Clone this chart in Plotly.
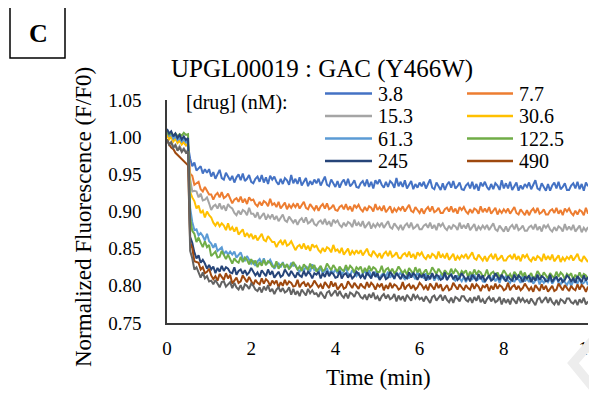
import plotly.graph_objects as go

# ---------------- data ----------------
time_min = [0.00, 0.05, 0.10, 0.15, 0.20, 0.25, 0.30, 0.35, 0.40, 0.45,
            0.50, 0.55, 0.60, 0.65, 0.70, 0.75, 0.80, 0.85, 0.90, 0.95,
            1.00, 1.05, 1.10, 1.15, 1.20, 1.25, 1.30, 1.35, 1.40, 1.45,
            1.50, 1.55, 1.60, 1.65, 1.70, 1.75, 1.80, 1.85, 1.90, 1.95,
            2.00, 2.05, 2.10, 2.15, 2.20, 2.25, 2.30, 2.35, 2.40, 2.45,
            2.50, 2.55, 2.60, 2.65, 2.70, 2.75, 2.80, 2.85, 2.90, 2.95,
            3.00, 3.05, 3.10, 3.15, 3.20, 3.25, 3.30, 3.35, 3.40, 3.45,
            3.50, 3.55, 3.60, 3.65, 3.70, 3.75, 3.80, 3.85, 3.90, 3.95,
            4.00, 4.05, 4.10, 4.15, 4.20, 4.25, 4.30, 4.35, 4.40, 4.45,
            4.50, 4.55, 4.60, 4.65, 4.70, 4.75, 4.80, 4.85, 4.90, 4.95,
            5.00, 5.05, 5.10, 5.15, 5.20, 5.25, 5.30, 5.35, 5.40, 5.45,
            5.50, 5.55, 5.60, 5.65, 5.70, 5.75, 5.80, 5.85, 5.90, 5.95,
            6.00, 6.05, 6.10, 6.15, 6.20, 6.25, 6.30, 6.35, 6.40, 6.45,
            6.50, 6.55, 6.60, 6.65, 6.70, 6.75, 6.80, 6.85, 6.90, 6.95,
            7.00, 7.05, 7.10, 7.15, 7.20, 7.25, 7.30, 7.35, 7.40, 7.45,
            7.50, 7.55, 7.60, 7.65, 7.70, 7.75, 7.80, 7.85, 7.90, 7.95,
            8.00, 8.05, 8.10, 8.15, 8.20, 8.25, 8.30, 8.35, 8.40, 8.45,
            8.50, 8.55, 8.60, 8.65, 8.70, 8.75, 8.80, 8.85, 8.90, 8.95,
            9.00, 9.05, 9.10, 9.15, 9.20, 9.25, 9.30, 9.35, 9.40, 9.45,
            9.50, 9.55, 9.60, 9.65, 9.70, 9.75, 9.80, 9.85, 9.90, 9.95,
            10.00]

conc_3_8 = [1.007, 1.002, 1.005, 0.999, 1.003, 0.996, 0.999, 0.993, 0.995, 0.990, 0.988,
            0.971, 0.961, 0.966, 0.955, 0.958, 0.961, 0.951, 0.957, 0.952, 0.957,
            0.947, 0.953, 0.944, 0.951, 0.956, 0.945, 0.943, 0.952, 0.947, 0.942,
            0.948, 0.939, 0.946, 0.950, 0.942, 0.951, 0.941, 0.944, 0.949, 0.940,
            0.938, 0.944, 0.947, 0.940, 0.949, 0.939, 0.946, 0.937, 0.948, 0.943,
            0.947, 0.940, 0.936, 0.944, 0.937, 0.945, 0.942, 0.936, 0.949, 0.938,
            0.944, 0.937, 0.946, 0.935, 0.940, 0.945, 0.934, 0.941, 0.936, 0.943,
            0.938, 0.944, 0.935, 0.942, 0.947, 0.936, 0.934, 0.943, 0.938, 0.933,
            0.941, 0.932, 0.939, 0.943, 0.935, 0.944, 0.934, 0.937, 0.942, 0.933,
            0.932, 0.938, 0.941, 0.934, 0.943, 0.933, 0.940, 0.931, 0.942, 0.937,
            0.943, 0.936, 0.932, 0.940, 0.933, 0.941, 0.938, 0.932, 0.945, 0.934,
            0.940, 0.933, 0.942, 0.931, 0.936, 0.941, 0.930, 0.937, 0.932, 0.939,
            0.934, 0.940, 0.931, 0.938, 0.943, 0.932, 0.930, 0.939, 0.934, 0.929,
            0.938, 0.929, 0.936, 0.940, 0.932, 0.941, 0.931, 0.934, 0.939, 0.930,
            0.929, 0.935, 0.938, 0.931, 0.940, 0.930, 0.937, 0.928, 0.939, 0.934,
            0.940, 0.933, 0.929, 0.937, 0.930, 0.938, 0.935, 0.929, 0.942, 0.931,
            0.938, 0.931, 0.940, 0.929, 0.934, 0.939, 0.928, 0.935, 0.930, 0.937,
            0.933, 0.939, 0.930, 0.937, 0.942, 0.931, 0.929, 0.938, 0.933, 0.928,
            0.937, 0.928, 0.935, 0.939, 0.931, 0.940, 0.930, 0.933, 0.938, 0.929,
            0.929, 0.935, 0.938, 0.931, 0.940, 0.930, 0.937, 0.928, 0.939, 0.934]

conc_7_7 = [1.005, 0.999, 1.003, 0.996, 1.000, 0.994, 0.997, 0.991, 0.994, 0.989, 0.990,
            0.951, 0.948, 0.936, 0.938, 0.940, 0.930, 0.927, 0.933, 0.928, 0.923,
            0.923, 0.916, 0.922, 0.925, 0.919, 0.926, 0.918, 0.920, 0.924, 0.917,
            0.911, 0.916, 0.918, 0.913, 0.920, 0.912, 0.917, 0.910, 0.919, 0.915,
            0.916, 0.910, 0.907, 0.913, 0.908, 0.914, 0.912, 0.907, 0.917, 0.909,
            0.911, 0.906, 0.913, 0.904, 0.908, 0.912, 0.903, 0.909, 0.905, 0.910,
            0.906, 0.911, 0.904, 0.909, 0.913, 0.905, 0.903, 0.910, 0.906, 0.902,
            0.908, 0.901, 0.907, 0.910, 0.904, 0.911, 0.903, 0.905, 0.909, 0.902,
            0.901, 0.906, 0.908, 0.903, 0.910, 0.902, 0.907, 0.900, 0.909, 0.905,
            0.909, 0.903, 0.900, 0.906, 0.901, 0.907, 0.905, 0.900, 0.910, 0.902,
            0.906, 0.901, 0.908, 0.899, 0.903, 0.907, 0.898, 0.904, 0.900, 0.905,
            0.902, 0.907, 0.900, 0.905, 0.909, 0.901, 0.899, 0.906, 0.902, 0.898,
            0.904, 0.897, 0.903, 0.906, 0.900, 0.907, 0.899, 0.901, 0.905, 0.898,
            0.898, 0.903, 0.905, 0.900, 0.907, 0.899, 0.904, 0.897, 0.906, 0.902,
            0.906, 0.900, 0.897, 0.903, 0.898, 0.904, 0.902, 0.897, 0.907, 0.899,
            0.904, 0.899, 0.906, 0.897, 0.901, 0.905, 0.896, 0.902, 0.898, 0.903,
            0.899, 0.904, 0.897, 0.902, 0.906, 0.898, 0.896, 0.903, 0.899, 0.895,
            0.902, 0.895, 0.901, 0.904, 0.898, 0.905, 0.897, 0.899, 0.903, 0.896,
            0.896, 0.901, 0.903, 0.898, 0.905, 0.897, 0.902, 0.895, 0.904, 0.900,
            0.904, 0.898, 0.895, 0.901, 0.896, 0.902, 0.900, 0.895, 0.905, 0.897]

conc_15_3 = [0.997, 0.991, 0.994, 0.987, 0.990, 0.984, 0.988, 0.982, 0.985, 0.980, 0.983,
             0.943, 0.927, 0.928, 0.927, 0.919, 0.924, 0.915, 0.916, 0.919, 0.911,
             0.902, 0.907, 0.909, 0.904, 0.911, 0.903, 0.908, 0.901, 0.910, 0.906,
             0.904, 0.898, 0.895, 0.901, 0.896, 0.902, 0.900, 0.895, 0.905, 0.897,
             0.897, 0.892, 0.899, 0.890, 0.894, 0.898, 0.889, 0.895, 0.891, 0.896,
             0.889, 0.894, 0.887, 0.892, 0.896, 0.888, 0.886, 0.893, 0.889, 0.885,
             0.889, 0.882, 0.888, 0.891, 0.885, 0.892, 0.884, 0.886, 0.890, 0.883,
             0.881, 0.886, 0.888, 0.883, 0.890, 0.882, 0.887, 0.880, 0.889, 0.885,
             0.888, 0.882, 0.879, 0.885, 0.880, 0.886, 0.884, 0.879, 0.889, 0.881,
             0.885, 0.880, 0.887, 0.878, 0.882, 0.886, 0.877, 0.883, 0.879, 0.884,
             0.880, 0.885, 0.878, 0.883, 0.887, 0.879, 0.877, 0.884, 0.880, 0.876,
             0.882, 0.875, 0.881, 0.884, 0.878, 0.885, 0.877, 0.879, 0.883, 0.876,
             0.876, 0.881, 0.883, 0.878, 0.885, 0.877, 0.882, 0.875, 0.884, 0.880,
             0.884, 0.878, 0.875, 0.881, 0.876, 0.882, 0.880, 0.875, 0.885, 0.877,
             0.882, 0.877, 0.884, 0.875, 0.879, 0.883, 0.874, 0.880, 0.876, 0.881,
             0.877, 0.882, 0.875, 0.880, 0.884, 0.876, 0.874, 0.881, 0.877, 0.873,
             0.880, 0.873, 0.879, 0.882, 0.876, 0.883, 0.875, 0.877, 0.881, 0.874,
             0.874, 0.879, 0.881, 0.876, 0.883, 0.875, 0.880, 0.873, 0.882, 0.878,
             0.882, 0.876, 0.873, 0.879, 0.874, 0.880, 0.878, 0.873, 0.883, 0.875,
             0.880, 0.875, 0.882, 0.873, 0.877, 0.881, 0.872, 0.878, 0.874, 0.879]

conc_30_6 = [1.003, 0.997, 1.000, 0.994, 0.998, 0.992, 0.995, 0.990, 0.993, 0.989, 0.991,
             0.926, 0.919, 0.914, 0.904, 0.908, 0.898, 0.901, 0.892, 0.900, 0.895,
             0.892, 0.885, 0.881, 0.886, 0.880, 0.884, 0.881, 0.875, 0.884, 0.875,
             0.879, 0.873, 0.879, 0.869, 0.872, 0.876, 0.866, 0.871, 0.866, 0.870,
             0.863, 0.868, 0.861, 0.866, 0.870, 0.862, 0.860, 0.867, 0.863, 0.859,
             0.859, 0.852, 0.858, 0.861, 0.855, 0.862, 0.854, 0.856, 0.860, 0.853,
             0.848, 0.853, 0.855, 0.850, 0.857, 0.849, 0.854, 0.847, 0.856, 0.852,
             0.854, 0.848, 0.845, 0.851, 0.846, 0.852, 0.850, 0.845, 0.855, 0.847,
             0.849, 0.844, 0.851, 0.842, 0.846, 0.850, 0.841, 0.847, 0.843, 0.848,
             0.843, 0.848, 0.841, 0.846, 0.850, 0.842, 0.840, 0.847, 0.843, 0.839,
             0.844, 0.837, 0.843, 0.846, 0.840, 0.847, 0.839, 0.841, 0.845, 0.838,
             0.837, 0.842, 0.844, 0.839, 0.846, 0.838, 0.843, 0.836, 0.845, 0.841,
             0.845, 0.839, 0.836, 0.842, 0.837, 0.843, 0.841, 0.836, 0.846, 0.838,
             0.842, 0.837, 0.844, 0.835, 0.839, 0.843, 0.834, 0.840, 0.836, 0.841,
             0.838, 0.843, 0.836, 0.841, 0.845, 0.837, 0.835, 0.842, 0.838, 0.834,
             0.840, 0.833, 0.839, 0.842, 0.836, 0.843, 0.835, 0.837, 0.841, 0.834,
             0.834, 0.839, 0.841, 0.836, 0.843, 0.835, 0.840, 0.833, 0.842, 0.838,
             0.842, 0.836, 0.833, 0.839, 0.834, 0.840, 0.838, 0.833, 0.843, 0.835,
             0.840, 0.835, 0.842, 0.833, 0.837, 0.841, 0.832, 0.838, 0.834, 0.839,
             0.836, 0.841, 0.834, 0.839, 0.843, 0.835, 0.833, 0.840, 0.836, 0.832]

conc_61_3 = [1.007, 1.002, 1.004, 0.998, 1.001, 0.996, 0.999, 0.994, 0.997, 0.993, 0.995,
             0.905, 0.886, 0.875, 0.876, 0.868, 0.871, 0.867, 0.861, 0.870, 0.860,
             0.857, 0.851, 0.857, 0.847, 0.850, 0.852, 0.842, 0.847, 0.842, 0.846,
             0.842, 0.846, 0.838, 0.842, 0.845, 0.837, 0.834, 0.840, 0.835, 0.830,
             0.834, 0.827, 0.833, 0.836, 0.830, 0.837, 0.829, 0.831, 0.835, 0.828,
             0.823, 0.828, 0.830, 0.825, 0.832, 0.824, 0.829, 0.822, 0.831, 0.827,
             0.828, 0.822, 0.819, 0.825, 0.820, 0.826, 0.824, 0.819, 0.829, 0.821,
             0.823, 0.818, 0.825, 0.816, 0.820, 0.824, 0.815, 0.821, 0.817, 0.822,
             0.817, 0.822, 0.815, 0.820, 0.824, 0.816, 0.814, 0.821, 0.817, 0.813,
             0.818, 0.811, 0.817, 0.820, 0.814, 0.821, 0.813, 0.815, 0.819, 0.812,
             0.810, 0.815, 0.817, 0.812, 0.819, 0.811, 0.816, 0.809, 0.818, 0.814,
             0.818, 0.812, 0.809, 0.815, 0.810, 0.816, 0.814, 0.809, 0.819, 0.811,
             0.815, 0.810, 0.817, 0.808, 0.812, 0.816, 0.807, 0.813, 0.809, 0.814,
             0.810, 0.815, 0.808, 0.813, 0.817, 0.809, 0.807, 0.814, 0.810, 0.806,
             0.812, 0.805, 0.811, 0.814, 0.808, 0.815, 0.807, 0.809, 0.813, 0.806,
             0.805, 0.810, 0.812, 0.807, 0.814, 0.806, 0.811, 0.804, 0.813, 0.809,
             0.813, 0.807, 0.804, 0.810, 0.805, 0.811, 0.809, 0.804, 0.814, 0.806,
             0.810, 0.805, 0.812, 0.803, 0.807, 0.811, 0.802, 0.808, 0.804, 0.809,
             0.805, 0.810, 0.803, 0.808, 0.812, 0.804, 0.802, 0.809, 0.805, 0.801,
             0.807, 0.800, 0.806, 0.809, 0.803, 0.810, 0.802, 0.804, 0.808, 0.801]

conc_122_5 = [1.008, 1.003, 1.006, 1.002, 1.005, 1.001, 1.004, 1.002, 1.006, 1.003, 1.004,
              0.892, 0.874, 0.870, 0.859, 0.865, 0.858, 0.852, 0.860, 0.852, 0.855,
              0.840, 0.843, 0.846, 0.838, 0.839, 0.847, 0.842, 0.836, 0.842, 0.836,
              0.830, 0.837, 0.833, 0.831, 0.839, 0.832, 0.838, 0.835, 0.829, 0.836,
              0.830, 0.834, 0.825, 0.832, 0.827, 0.835, 0.828, 0.833, 0.831, 0.826,
              0.825, 0.833, 0.823, 0.828, 0.830, 0.824, 0.829, 0.823, 0.826, 0.832,
              0.827, 0.822, 0.826, 0.820, 0.829, 0.825, 0.821, 0.830, 0.823, 0.828,
              0.819, 0.823, 0.827, 0.820, 0.822, 0.830, 0.826, 0.821, 0.828, 0.823,
              0.819, 0.826, 0.822, 0.820, 0.828, 0.821, 0.827, 0.824, 0.818, 0.825,
              0.822, 0.826, 0.817, 0.824, 0.819, 0.827, 0.820, 0.825, 0.823, 0.818,
              0.819, 0.827, 0.817, 0.822, 0.824, 0.818, 0.823, 0.817, 0.820, 0.826,
              0.822, 0.817, 0.821, 0.815, 0.824, 0.820, 0.816, 0.825, 0.818, 0.823,
              0.814, 0.818, 0.822, 0.815, 0.817, 0.825, 0.821, 0.816, 0.823, 0.818,
              0.814, 0.821, 0.817, 0.815, 0.823, 0.816, 0.822, 0.819, 0.813, 0.820,
              0.817, 0.821, 0.812, 0.819, 0.814, 0.822, 0.815, 0.820, 0.818, 0.813,
              0.814, 0.822, 0.812, 0.817, 0.819, 0.813, 0.818, 0.812, 0.815, 0.821,
              0.817, 0.812, 0.816, 0.810, 0.819, 0.815, 0.811, 0.820, 0.813, 0.818,
              0.809, 0.813, 0.817, 0.810, 0.812, 0.820, 0.816, 0.811, 0.818, 0.813,
              0.810, 0.817, 0.813, 0.811, 0.819, 0.812, 0.818, 0.815, 0.809, 0.816,
              0.813, 0.817, 0.808, 0.815, 0.810, 0.818, 0.811, 0.816, 0.814, 0.809]

conc_245 = [1.011, 1.005, 1.008, 1.001, 1.005, 0.999, 1.003, 0.997, 1.001, 0.996, 0.999,
            0.866, 0.858, 0.845, 0.837, 0.841, 0.831, 0.835, 0.830, 0.823, 0.828,
            0.822, 0.826, 0.817, 0.824, 0.819, 0.827, 0.820, 0.825, 0.823, 0.818,
            0.817, 0.825, 0.815, 0.820, 0.822, 0.816, 0.821, 0.815, 0.818, 0.824,
            0.819, 0.814, 0.818, 0.812, 0.821, 0.817, 0.813, 0.822, 0.815, 0.820,
            0.811, 0.815, 0.819, 0.812, 0.814, 0.822, 0.818, 0.813, 0.820, 0.815,
            0.811, 0.818, 0.814, 0.812, 0.820, 0.813, 0.819, 0.816, 0.810, 0.817,
            0.815, 0.819, 0.810, 0.817, 0.812, 0.820, 0.813, 0.818, 0.816, 0.811,
            0.812, 0.820, 0.810, 0.815, 0.817, 0.811, 0.816, 0.810, 0.813, 0.819,
            0.816, 0.811, 0.815, 0.809, 0.818, 0.814, 0.810, 0.819, 0.812, 0.817,
            0.808, 0.812, 0.816, 0.809, 0.811, 0.819, 0.815, 0.810, 0.817, 0.812,
            0.809, 0.816, 0.812, 0.810, 0.818, 0.811, 0.817, 0.814, 0.808, 0.815,
            0.812, 0.816, 0.807, 0.814, 0.809, 0.817, 0.810, 0.815, 0.813, 0.808,
            0.810, 0.818, 0.808, 0.813, 0.815, 0.809, 0.814, 0.808, 0.811, 0.817,
            0.813, 0.808, 0.812, 0.806, 0.815, 0.811, 0.807, 0.816, 0.809, 0.814,
            0.806, 0.810, 0.814, 0.807, 0.809, 0.817, 0.813, 0.808, 0.815, 0.810,
            0.806, 0.813, 0.809, 0.807, 0.815, 0.808, 0.814, 0.811, 0.805, 0.812,
            0.810, 0.814, 0.805, 0.812, 0.807, 0.815, 0.808, 0.813, 0.811, 0.806,
            0.807, 0.815, 0.805, 0.810, 0.812, 0.806, 0.811, 0.805, 0.808, 0.814,
            0.811, 0.806, 0.810, 0.804, 0.813, 0.809, 0.805, 0.814, 0.807, 0.812]

conc_490 = [0.997, 0.990, 0.986, 0.984, 0.979, 0.976, 0.973, 0.970, 0.968, 0.964, 0.962,
            0.858, 0.851, 0.833, 0.832, 0.831, 0.822, 0.825, 0.817, 0.819, 0.823,
            0.814, 0.809, 0.813, 0.807, 0.816, 0.812, 0.808, 0.817, 0.810, 0.815,
            0.803, 0.807, 0.811, 0.804, 0.806, 0.814, 0.810, 0.805, 0.812, 0.807,
            0.801, 0.808, 0.804, 0.802, 0.810, 0.803, 0.809, 0.806, 0.800, 0.807,
            0.803, 0.807, 0.798, 0.805, 0.800, 0.808, 0.801, 0.806, 0.804, 0.799,
            0.800, 0.808, 0.798, 0.803, 0.805, 0.799, 0.804, 0.798, 0.801, 0.807,
            0.803, 0.798, 0.802, 0.796, 0.805, 0.801, 0.797, 0.806, 0.799, 0.804,
            0.795, 0.799, 0.803, 0.796, 0.798, 0.806, 0.802, 0.797, 0.804, 0.799,
            0.796, 0.803, 0.799, 0.797, 0.805, 0.798, 0.804, 0.801, 0.795, 0.802,
            0.799, 0.803, 0.794, 0.801, 0.796, 0.804, 0.797, 0.802, 0.800, 0.795,
            0.797, 0.805, 0.795, 0.800, 0.802, 0.796, 0.801, 0.795, 0.798, 0.804,
            0.801, 0.796, 0.800, 0.794, 0.803, 0.799, 0.795, 0.804, 0.797, 0.802,
            0.793, 0.797, 0.801, 0.794, 0.796, 0.804, 0.800, 0.795, 0.802, 0.797,
            0.794, 0.801, 0.797, 0.795, 0.803, 0.796, 0.802, 0.799, 0.793, 0.800,
            0.798, 0.802, 0.793, 0.800, 0.795, 0.803, 0.796, 0.801, 0.799, 0.794,
            0.796, 0.804, 0.794, 0.799, 0.801, 0.795, 0.800, 0.794, 0.797, 0.803,
            0.799, 0.794, 0.798, 0.792, 0.801, 0.797, 0.793, 0.802, 0.795, 0.800,
            0.792, 0.796, 0.800, 0.793, 0.795, 0.803, 0.799, 0.794, 0.801, 0.796,
            0.793, 0.800, 0.796, 0.794, 0.802, 0.795, 0.801, 0.798, 0.792, 0.799]

conc_unlabeled = [0.997, 0.990, 0.993, 0.986, 0.989, 0.982, 0.986, 0.980, 0.984, 0.979, 0.981,
                  0.847, 0.837, 0.822, 0.825, 0.818, 0.811, 0.818, 0.810, 0.813, 0.806,
                  0.807, 0.802, 0.808, 0.802, 0.798, 0.805, 0.806, 0.799, 0.802, 0.805,
                  0.797, 0.804, 0.798, 0.795, 0.801, 0.794, 0.802, 0.800, 0.796, 0.803,
                  0.800, 0.795, 0.793, 0.798, 0.791, 0.799, 0.794, 0.801, 0.792, 0.796,
                  0.789, 0.795, 0.798, 0.792, 0.797, 0.791, 0.793, 0.798, 0.788, 0.796,
                  0.788, 0.793, 0.786, 0.795, 0.791, 0.787, 0.796, 0.790, 0.794, 0.789,
                  0.790, 0.785, 0.792, 0.787, 0.783, 0.791, 0.793, 0.786, 0.790, 0.794,
                  0.786, 0.793, 0.787, 0.784, 0.790, 0.783, 0.791, 0.789, 0.785, 0.792,
                  0.790, 0.785, 0.783, 0.788, 0.781, 0.789, 0.784, 0.791, 0.782, 0.786,
                  0.780, 0.786, 0.789, 0.783, 0.788, 0.782, 0.784, 0.789, 0.779, 0.787,
                  0.781, 0.786, 0.779, 0.788, 0.784, 0.780, 0.789, 0.783, 0.787, 0.782,
                  0.784, 0.779, 0.786, 0.781, 0.777, 0.785, 0.787, 0.780, 0.784, 0.788,
                  0.780, 0.787, 0.781, 0.778, 0.784, 0.777, 0.785, 0.783, 0.779, 0.786,
                  0.786, 0.781, 0.779, 0.784, 0.777, 0.785, 0.780, 0.787, 0.778, 0.782,
                  0.776, 0.782, 0.785, 0.779, 0.784, 0.778, 0.780, 0.785, 0.775, 0.783,
                  0.777, 0.782, 0.775, 0.784, 0.780, 0.776, 0.785, 0.779, 0.783, 0.778,
                  0.781, 0.776, 0.783, 0.778, 0.774, 0.782, 0.784, 0.777, 0.781, 0.785,
                  0.777, 0.784, 0.778, 0.775, 0.781, 0.774, 0.782, 0.780, 0.776, 0.783,
                  0.783, 0.778, 0.776, 0.781, 0.774, 0.782, 0.777, 0.784, 0.775, 0.779]

series_labels = ["3.8", "7.7", "15.3", "30.6", "61.3", "122.5", "245", "490", ""]
series_values = [conc_3_8, conc_7_7, conc_15_3, conc_30_6, conc_61_3,
                 conc_122_5, conc_245, conc_490, conc_unlabeled]
series_colors = ["#4472C4", "#ED7D31", "#A5A5A5", "#FFC000", "#5B9BD5",
                 "#70AD47", "#264478", "#9E480E", "#636363"]

x_ticks = [0, 2, 4, 6, 8, 10]
y_ticks = [0.75, 0.80, 0.85, 0.90, 0.95, 1.00, 1.05]
y_tick_text = ["0.75", "0.80", "0.85", "0.90", "0.95", "1.00", "1.05"]

title_text = "UPGL00019 : GAC (Y466W)"
legend_title = "[drug] (nM):"
x_title = "Time (min)"
y_title = "Normalized Fluorescence (F/F0)"
panel_letter = "C"

# ---------------- layout geometry (window pixels) ----------------
OFF = 8                      # page body margin added by the html page
WIN_W, WIN_H = 597, 397
W, H = WIN_W - OFF, WIN_H - OFF
L, R, T, B = 167, 588, 100, 323   # plot area in window pixels
FONT = "Liberation Serif, Times New Roman, serif"


def px(xp):
    return (xp - L) / (R - L)


def py(yp):
    return (B - yp) / (B - T)


fig = go.Figure()
for lab, vals, col in zip(series_labels, series_values, series_colors):
    fig.add_trace(go.Scatter(x=time_min, y=vals, mode="lines", name=lab,
                             line=dict(color=col, width=2), showlegend=False))

shapes = []
annotations = []

# manual legend (2 columns x 4 rows)
row_y = [93.5, 116, 138.5, 161]
col_line = [(325, 372), (467, 513)]
col_text = [376, 517]
legend_items = [i for i, s in enumerate(series_labels) if s]
for k, idx in enumerate(legend_items):
    r, c = divmod(k, 2)
    yy = py(row_y[r])
    shapes.append(dict(type="line", xref="paper", yref="paper",
                       x0=px(col_line[c][0]), x1=px(col_line[c][1]), y0=yy, y1=yy,
                       line=dict(color=series_colors[idx], width=2.5)))
    annotations.append(dict(text=series_labels[idx], xref="paper", yref="paper",
                            x=px(col_text[c]), y=yy, xanchor="left", yanchor="middle",
                            showarrow=False, font=dict(size=20, color="#000", family=FONT)))

annotations.append(dict(text=legend_title, xref="paper", yref="paper",
                        x=px(184), y=py(102), xanchor="left", yanchor="middle",
                        showarrow=False, font=dict(size=20, color="#000", family=FONT)))
annotations.append(dict(text=title_text, xref="paper", yref="paper",
                        x=px(322), y=py(69.5), xanchor="center", yanchor="middle",
                        showarrow=False, font=dict(size=25, color="#000", family=FONT)))
annotations.append(dict(text=x_title, xref="paper", yref="paper",
                        x=px(378), y=py(377), xanchor="center", yanchor="middle",
                        showarrow=False, font=dict(size=23, color="#000", family=FONT)))
annotations.append(dict(text=y_title, xref="paper", yref="paper", textangle=-90,
                        x=px(83), y=py(217), xanchor="center", yanchor="middle",
                        showarrow=False, font=dict(size=23, color="#000", family=FONT)))
annotations.append(dict(text="<b>" + panel_letter + "</b>", xref="paper", yref="paper",
                        x=px(38), y=py(33), xanchor="center", yanchor="middle",
                        showarrow=False, font=dict(size=26, color="#000", family=FONT)))

# panel letter box
shapes.append(dict(type="rect", xref="paper", yref="paper",
                   x0=px(10), x1=px(65), y0=py(58), y1=py(6),
                   line=dict(color="#000", width=1.5), fillcolor="rgba(0,0,0,0)"))
# faint watermark chevron at bottom right
shapes.append(dict(type="path", xref="paper", yref="paper",
                   path="M %f,%f L %f,%f L %f,%f" % (px(600), py(332), px(573), py(363), px(600), py(396)),
                   line=dict(color="#ededed", width=9)))

fig.update_layout(
    width=W, height=H,
    margin=dict(l=L - OFF, r=WIN_W - R, t=T - OFF, b=WIN_H - B),
    paper_bgcolor="white", plot_bgcolor="white",
    font=dict(family=FONT, color="#000"),
    shapes=shapes, annotations=annotations,
    xaxis=dict(range=[0, 10], tickvals=x_ticks, ticks="", showgrid=False, zeroline=False,
               showline=True, linecolor="#3a3a3a", linewidth=1.5, automargin=False,
               ticklabeloverflow="allow",
               tickfont=dict(size=19, family=FONT, color="#000"), ticklabelstandoff=7),
    yaxis=dict(range=[0.75, 1.05], tickvals=y_ticks, ticktext=y_tick_text, ticks="",
               showgrid=False, zeroline=False, showline=True, linecolor="#3a3a3a", linewidth=1.5,
               automargin=False,
               tickfont=dict(size=19, family=FONT, color="#000"), ticklabelstandoff=20),
    showlegend=False,
)

fig.write_html("out.html")
